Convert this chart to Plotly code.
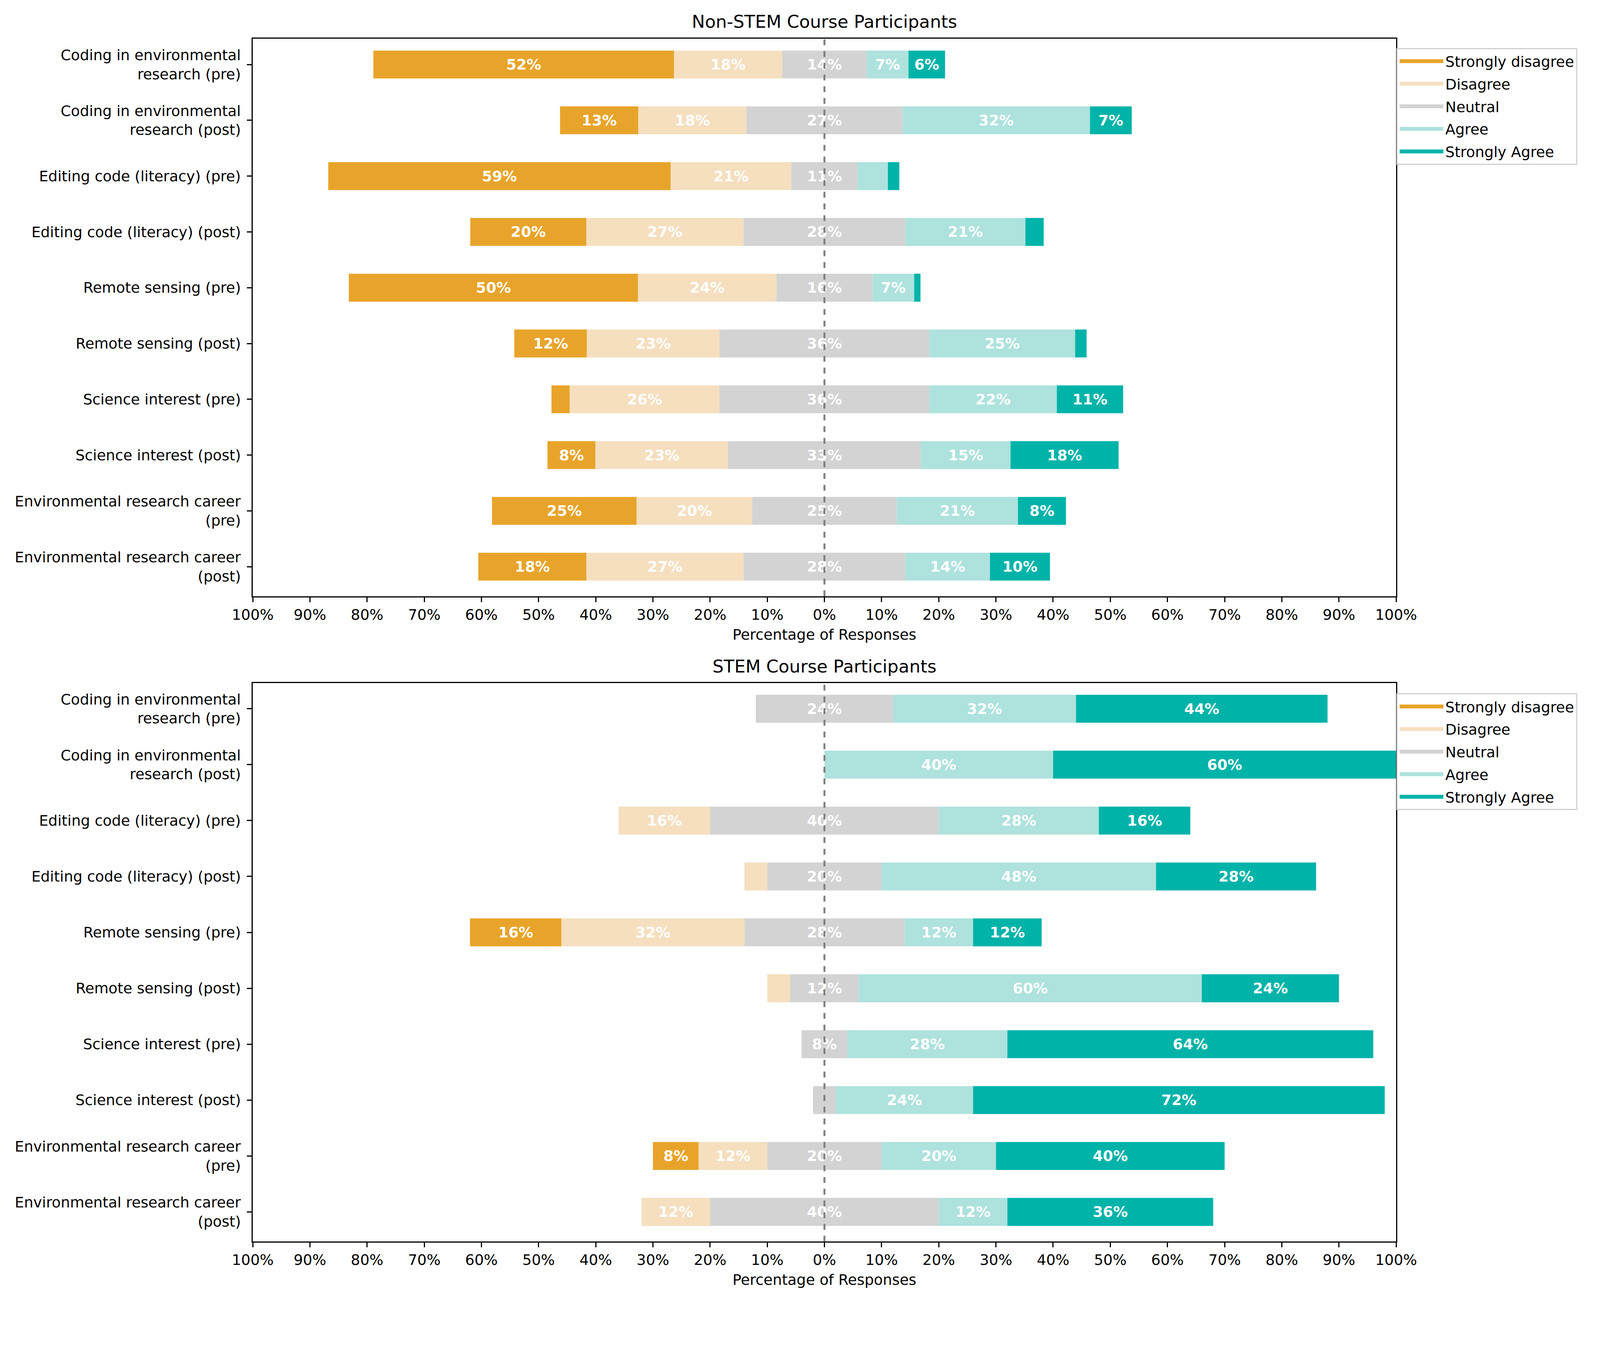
import plotly.graph_objects as go

categories = [
    "Coding in environmental<br>research (pre)",
    "Coding in environmental<br>research (post)",
    "Editing code (literacy) (pre)",
    "Editing code (literacy) (post)",
    "Remote sensing (pre)",
    "Remote sensing (post)",
    "Science interest (pre)",
    "Science interest (post)",
    "Environmental research career<br>(pre)",
    "Environmental research career<br>(post)",
]
responses = ["Strongly disagree", "Disagree", "Neutral", "Agree", "Strongly Agree"]
colors = ["#E8A42A", "#F5DFBF", "#D3D3D3", "#AEE2DD", "#00B3A9"]

# Non-STEM course participants (percent)
nonstem_sd = [52.6, 13.7, 59.9, 20.3, 50.6, 12.7, 3.2, 8.4, 25.3, 18.9]
nonstem_d = [18.9, 18.9, 21.1, 27.5, 24.2, 23.2, 26.2, 23.2, 20.2, 27.5]
nonstem_n = [14.8, 27.3, 11.6, 28.3, 16.8, 36.7, 36.7, 33.7, 25.3, 28.3]
nonstem_a = [7.3, 32.8, 5.3, 21.0, 7.3, 25.5, 22.3, 15.7, 21.2, 14.8]
nonstem_sa = [6.4, 7.3, 2.0, 3.2, 1.1, 2.0, 11.6, 18.9, 8.4, 10.5]

# STEM course participants (percent)
stem_sd = [0, 0, 0, 0, 16, 0, 0, 0, 8, 0]
stem_d = [0, 0, 16, 4, 32, 4, 0, 0, 12, 12]
stem_n = [24, 0, 40, 20, 28, 12, 8, 4, 20, 40]
stem_a = [32, 40, 28, 48, 12, 60, 28, 24, 20, 12]
stem_sa = [44, 60, 16, 28, 12, 24, 64, 72, 40, 36]

tick_vals = list(range(-100, 101, 10))
tick_text = [f"{abs(v)}%" for v in tick_vals]

FONT = "DejaVu Sans"
FS = 37.5

# page rendering calibration (photo px -> css px)
K = 1.0355
M = 8
FW, FH = 4066, 3308


def fx(X):
    return (X / K - M) / FW


def fy(Y):
    return 1 - (Y / K - M) / FH


x_dom = [fx(670), fx(3701)]
top_dom = [fy(1580), fy(103)]
bot_dom = [fy(3290), fy(1810)]

fig = go.Figure()


def add_group(series, xa, ya, legend_name, tag):
    sd, d, n, a, sa = series
    starts = [-(sd[i] + d[i] + n[i] / 2) for i in range(len(categories))]
    cum = list(starts)
    for k, vals in enumerate(series):
        texts = [f"{int(v)}%" if v >= 6 else "" for v in vals]
        fig.add_trace(go.Bar(
            y=categories, x=vals, base=list(cum), orientation="h",
            name=responses[k], marker=dict(color=colors[k], line=dict(width=0)),
            width=0.5, text=texts, textposition="inside",
            insidetextanchor="middle", textangle=0,
            textfont=dict(family=FONT, size=FS, color="white", weight="bold"),
            xaxis=xa, yaxis=ya, showlegend=False, hoverinfo="skip",
        ))
        # legend entry (wide swatch)
        fig.add_trace(go.Scatter(
            x=[None], y=[None], mode="lines", name=responses[k],
            line=dict(color=colors[k], width=26),
            xaxis=xa, yaxis=ya, legend=legend_name,
            legendgroup=f"{tag}{k}", showlegend=True, hoverinfo="skip",
        ))
        cum = [cum[i] + vals[i] for i in range(len(vals))]


add_group([nonstem_sd, nonstem_d, nonstem_n, nonstem_a, nonstem_sa], "x", "y", "legend", "a")
add_group([stem_sd, stem_d, stem_n, stem_a, stem_sa], "x2", "y2", "legend2", "b")

axis_common = dict(showline=True, linecolor="black", linewidth=3, mirror=True,
                   ticks="outside", ticklen=12, tickwidth=3, tickcolor="black",
                   tickfont=dict(family=FONT, size=FS, color="black"),
                   showgrid=False, zeroline=False, automargin=False)

for xa, ya, dom in [("xaxis", "yaxis", top_dom), ("xaxis2", "yaxis2", bot_dom)]:
    yname = "y" if ya == "yaxis" else "y2"
    xname = "x" if xa == "xaxis" else "x2"
    fig.update_layout(**{
        xa: dict(domain=x_dom, anchor=yname, range=[-100, 100], tickmode="array",
                 tickvals=tick_vals, ticktext=tick_text,
                 title=dict(text="Percentage of Responses", font=dict(family=FONT, size=FS, color="black"), standoff=17),
                 **axis_common),
        ya: dict(domain=dom, anchor=xname, type="category", categoryorder="array",
                 categoryarray=categories, range=[9.53, -0.46], autorange=False,
                 ticklabelstandoff=8, **axis_common),
    })

for xr, yr in [("x", "y domain"), ("x2", "y2 domain")]:
    fig.add_shape(type="line", xref=xr, yref=yr, x0=0, x1=0, y0=0, y1=1,
                  line=dict(color="gray", width=5, dash="dash"), layer="above")

xc = (x_dom[0] + x_dom[1]) / 2
fig.add_annotation(text="Non-STEM Course Participants", xref="paper", yref="paper",
                   x=xc, y=fy(57), xanchor="center", yanchor="middle", showarrow=False,
                   font=dict(family=FONT, size=45, color="black"))
fig.add_annotation(text="STEM Course Participants", xref="paper", yref="paper",
                   x=xc, y=fy(1766), xanchor="center", yanchor="middle", showarrow=False,
                   font=dict(family=FONT, size=45, color="black"))

legend_common = dict(bgcolor="white", bordercolor="#D0D0D0", borderwidth=3,
                     font=dict(family=FONT, size=FS, color="black"),
                     xanchor="left", yanchor="top", traceorder="grouped",
                     tracegroupgap=6, itemwidth=112)
fig.update_layout(
    width=FW, height=FH, margin=dict(l=0, r=0, t=0, b=0),
    plot_bgcolor="white", paper_bgcolor="white", barmode="overlay",
    legend=dict(x=fx(3702), y=fy(127), **legend_common),
    legend2=dict(x=fx(3702), y=fy(1837), **legend_common),
    showlegend=True,
    uniformtext=dict(minsize=FS, mode="show"),
)

fig.write_html("out.html")
